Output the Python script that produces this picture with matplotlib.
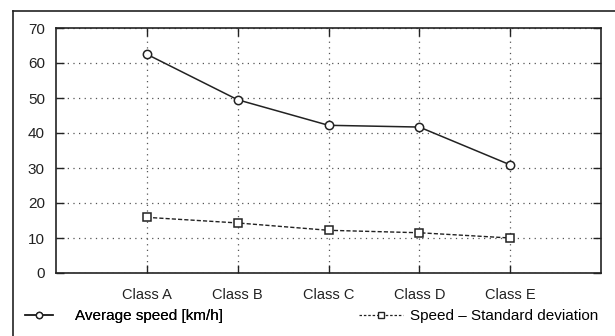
import matplotlib
matplotlib.use("Agg")
import matplotlib.pyplot as plt
from matplotlib.lines import Line2D

categories = ["Class A", "Class B", "Class C", "Class D", "Class E"]
avg_speed = [62.5, 49.5, 42.2, 41.7, 30.9]
std_dev = [15.9, 14.3, 12.2, 11.5, 10.0]
y_ticks = [0, 10, 20, 30, 40, 50, 60, 70]

plt.rcParams['font.family'] = ['Liberation Sans', 'DejaVu Sans']
plt.rcParams['font.size'] = 11

INK = '#222222'
fig = plt.figure(figsize=(6.15, 3.36), dpi=100)
ax = fig.add_axes([56/615, (336-273)/336, 545/615, 245/336])

xs = list(range(1, len(categories) + 1))
ax.plot(xs, avg_speed, color=INK, lw=1.1, marker='o', ms=6,
        mfc='white', mec=INK, mew=1.1)
ax.plot(xs, std_dev, color=INK, lw=1.0, ls=(0, (3, 1.5)), marker='s', ms=6,
        mfc='white', mec=INK, mew=1.1)

ax.set_xlim(0, 6)
ax.set_ylim(0, 70)
ax.set_xticks(xs)
ax.set_xticklabels(categories, fontsize=10.5)
ax.set_yticks(y_ticks)
ax.tick_params(direction='in', length=6, width=1, color=INK, top=True, right=True,
               labelsize=11, labelcolor=INK)
ax.tick_params(axis='y', pad=8)
ax.tick_params(axis='x', pad=11, labelsize=10.5)
ax.grid(True, ls=(0, (1, 3.5)), color='#555555', lw=0.9)
for s in ax.spines.values():
    s.set_color(INK)
    s.set_linewidth(1.2)

h1 = Line2D([], [], color=INK, lw=1.1, marker='o', ms=4.5, mfc='white', mec=INK, mew=1.0)
h2 = Line2D([], [], color=INK, lw=0.9, ls=(0, (2, 1.5)), marker='s', ms=4.5, mfc='white', mec=INK, mew=1.0)

ly = 1 - 316/336
leg1 = fig.legend(handles=[h1], labels=['Average speed [km/h]'], loc='center left',
                  bbox_to_anchor=(25/615, ly), frameon=False, fontsize=11,
                  handlelength=1.85, handletextpad=1.45, borderaxespad=0, borderpad=0)
leg2 = fig.legend(handles=[h2], labels=['Speed – Standard deviation'], loc='center right',
                  bbox_to_anchor=(598/615, ly), frameon=False, fontsize=11,
                  handlelength=2.9, handletextpad=0.45, borderaxespad=0, borderpad=0)
fig.add_artist(leg1)

fig.add_artist(Line2D([13/615, 1.0], [1 - 11/336, 1 - 11/336], transform=fig.transFigure,
                      color=INK, lw=1.2))
fig.add_artist(Line2D([13/615, 13/615], [1 - 11/336, 0.0], transform=fig.transFigure,
                      color=INK, lw=1.2))

fig.savefig("out.png", dpi=100)
